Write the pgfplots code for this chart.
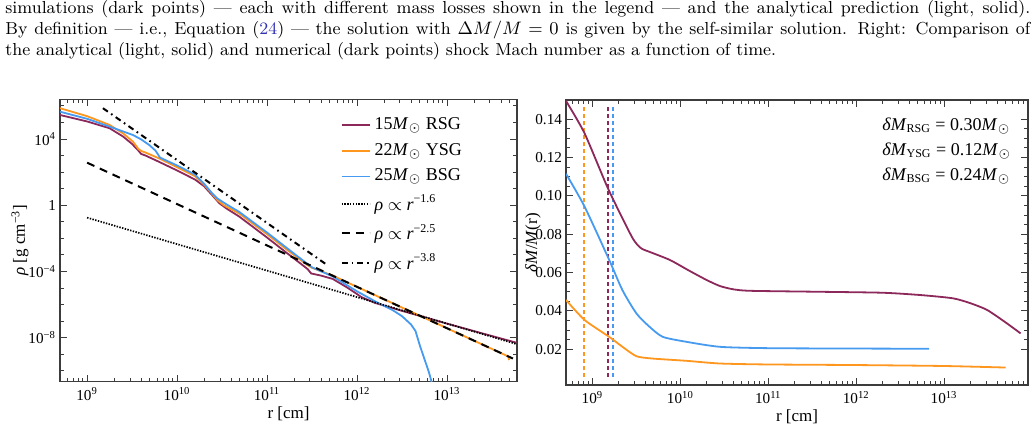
\documentclass[border=0pt]{standalone}
\usepackage{fontspec}
\usepackage{pgfplots}
\pgfplotsset{compat=1.18}
\newfontfamily\tnr{Liberation Serif}

\definecolor{rsg}{RGB}{140,40,90}
\definecolor{ysg}{RGB}{255,150,30}
\definecolor{bsg}{RGB}{70,155,240}
\definecolor{eqlink}{RGB}{50,50,180}
\definecolor{framegray}{RGB}{60,60,60}

\newcommand{\Msun}{\textit{M}\kern0.2pt$_{\odot}$}
\newcommand{\capfont}{\fontsize{8.7}{10.5}\selectfont}
\newcommand{\labfont}{\tnr\fontsize{8.5}{10}\selectfont}

\pgfplotsset{
  mma/.style={
    scale only axis,
    axis line style={framegray, line width=0.6pt},
    tick style={framegray, line width=0.5pt},
    major tick length=3.5pt,
    minor tick length=1.8pt,
    tick align=inside,
    ticklabel style={font=\tnr\fontsize{7.6}{9}\selectfont, text=black},
    xticklabel style={yshift=0.5pt},
    yticklabel style={xshift=1.5pt},
    label style={font=\labfont},
    xlabel={r [cm]},
    x label style={at={(axis description cs:0.5,0)}, anchor=center, yshift=-16pt},
    xtick={1e9,1e10,1e11,1e12,1e13},
    xticklabels={10\textsuperscript{9},10\textsuperscript{10},10\textsuperscript{11},10\textsuperscript{12},10\textsuperscript{13}},
    /pgf/number format/assume math mode=true,
    clip=true,
  }
}

\begin{document}
\begin{tikzpicture}
\path[use as bounding box] (0pt,0pt) rectangle (518pt,221pt);

% caption text above the panels
\node[anchor=base west, inner sep=0pt] at (2.5pt,214.3pt) {\capfont\hbox to 512.5pt{simulations (dark points) --- each with different mass losses shown in the legend --- and the analytical prediction (light, solid).}};
\node[anchor=base west, inner sep=0pt] at (2.5pt,203.8pt) {\capfont\hbox to 512.5pt{By definition --- i.e., Equation (\textcolor{eqlink}{24}) --- the solution with $\Delta M/M = 0$ is given by the self-similar solution. Right: Comparison of}};
\node[anchor=base west, inner sep=0pt] at (2.5pt,193.4pt) {\capfont\hbox{the analytical (light, solid) and numerical (dark points) shock Mach number as a function of time.}};

% vertical axis titles
\node[rotate=90, inner sep=0pt, font=\labfont] at (10pt,101pt) {\textit{ρ} [g cm\textsuperscript{−3}]};
\node[rotate=90, inner sep=0pt, font=\labfont] at (266.5pt,99.5pt) {\textit{δM}/\textit{M}(r)};

% ---------------- left panel: density profiles ----------------
\begin{axis}[mma,
  at={(30pt,30.15pt)}, anchor=south west,
  width=228.5pt, height=141.2pt,
  xmode=log, ymode=log,
  xmin=5e8, xmax=6e13, ymin=2.2e-11, ymax=2.5e6,
  minor xtick={5e8,6e8,7e8,8e8,9e8,2e9,3e9,4e9,5e9,6e9,7e9,8e9,9e9,2e10,3e10,4e10,5e10,6e10,7e10,8e10,9e10,2e11,3e11,4e11,5e11,6e11,7e11,8e11,9e11,2e12,3e12,4e12,5e12,6e12,7e12,8e12,9e12,2e13,3e13,4e13,5e13},
  ytick={1e-8,1e-4,1,1e4},
  yticklabels={10\textsuperscript{−8},10\textsuperscript{−4},1,10\textsuperscript{4}},
  minor ytick={1e-10,1e-9,1e-7,1e-6,1e-5,1e-3,1e-2,1e-1,10,100,1000,1e5,1e6},
  legend style={draw=none, fill=none, at={(rel axis cs:0.6,0.965)}, anchor=north west,
    font=\tnr\fontsize{9}{10}\selectfont, row sep=1.4pt,
    /tikz/every even column/.append style={column sep=4pt}},
  legend cell align=left,
  legend image code/.code={\draw[#1] (0pt,0pt) -- (14pt,0pt);},
]
\addplot[rsg, line width=0.9pt] coordinates {
 (5.0e8,2.818e5) (1e9,1.148e5) (1.778e9,4.467e4) (2.512e9,1.413e4) (3.162e9,5.012e3)
 (3.715e9,1.995e3) (3.981e9,1.259e3) (4.467e9,1.0e3) (6.310e9,4.169e2) (1e10,1.259e2)
 (1.585e10,35.48) (1.995e10,14.13) (2.512e10,3.548) (2.951e10,1.318) (3.548e10,0.631)
 (4.898e10,0.2089) (1e11,1.122e-2) (1.585e11,1.585e-3) (2.818e11,1.413e-4) (3.090e11,7.586e-5)
 (3.981e11,5.623e-5) (5.370e11,3.548e-5) (7.943e11,1e-5) (1.122e12,2.818e-6) (1.585e12,1.259e-6)
 (3.162e12,4.169e-7) (5.370e12,1.862e-7) (1e13,7.079e-8) (2.512e13,1.778e-8) (5.888e13,5.012e-9)};
\addlegendentry{15\Msun{} RSG}
\addplot[ysg, line width=0.9pt] coordinates {
 (5.0e8,7.244e5) (1e9,2.399e5) (1.778e9,7.079e4) (2.512e9,2.188e4) (3.236e9,6.918e3)
 (3.715e9,2.512e3) (3.981e9,1.905e3) (4.467e9,1.514e3) (6.310e9,6.761e2) (1e10,1.995e2)
 (1.585e10,56.23) (1.995e10,17.78) (2.399e10,5.623) (2.818e10,1.995) (3.311e10,1.0)
 (4.898e10,0.3162) (1e11,1.778e-2) (1.585e11,2.512e-3) (2.818e11,2.399e-4) (3.162e11,1.660e-4)
 (5.370e11,5.623e-5) (1e12,1.175e-5) (3.162e12,6.607e-7) (1e13,3.715e-8) (3.162e13,2.089e-9)
 (4.786e13,7.413e-10) (4.898e13,4.467e-10)};
\addlegendentry{22\Msun{} YSG}
\addplot[bsg, line width=0.9pt] coordinates {
 (5.0e8,4.467e5) (1e9,1.660e5) (1.778e9,5.623e4) (3.236e9,1.738e4) (3.981e9,9.550e3)
 (4.898e9,4.365e3) (5.754e9,1.995e3) (6.166e9,1.122e3) (6.457e9,7.586e2) (1e10,2.512e2)
 (1.585e10,70.79) (1.995e10,19.95) (2.399e10,6.026) (2.818e10,2.512) (3.548e10,1.122)
 (4.898e10,0.3981) (1e11,2.239e-2) (1.585e11,3.162e-3) (2.818e11,2.818e-4) (3.162e11,1.778e-4)
 (5.370e11,5.012e-5) (1e12,6.310e-6) (1.585e12,1.585e-6) (2.512e12,4.467e-7) (3.162e12,1.995e-7)
 (3.981e12,6.310e-8) (4.467e12,2.512e-8) (5.012e12,3.162e-9) (5.623e12,5.012e-10)
 (6.310e12,7.943e-11) (6.761e12,1.995e-11)};
\addlegendentry{25\Msun{} BSG}
\addplot[black, line width=0.85pt, dash pattern=on 0.7pt off 0.7pt] coordinates {(1e9,0.1778) (5.9e13,4.15e-9)};
\addlegendentry{\textit{ρ} $\propto$ \textit{r}\textsuperscript{−1.6}}
\addplot[black, line width=1pt, dash pattern=on 4pt off 3pt] coordinates {(1e9,371.5) (5.4e13,5.5e-10)};
\addlegendentry{\textit{ρ} $\propto$ \textit{r}\textsuperscript{−2.5}}
\addplot[black, line width=1pt, dash pattern=on 3pt off 2pt on 0.8pt off 2pt] coordinates {(1.5e9,7.244e5) (4.57e11,2.63e-4)};
\addlegendentry{\textit{ρ} $\propto$ \textit{r}\textsuperscript{−3.8}}
\end{axis}

% ---------------- right panel: relative mass loss ----------------
\begin{axis}[mma,
  at={(283pt,28.5pt)}, anchor=south west,
  width=231pt, height=142.5pt,
  xmode=log,
  xmin=5e8, xmax=9e13, ymin=0.0014, ymax=0.150,
  minor xtick={5e8,6e8,7e8,8e8,9e8,2e9,3e9,4e9,5e9,6e9,7e9,8e9,9e9,2e10,3e10,4e10,5e10,6e10,7e10,8e10,9e10,2e11,3e11,4e11,5e11,6e11,7e11,8e11,9e11,2e12,3e12,4e12,5e12,6e12,7e12,8e12,9e12,2e13,3e13,4e13,5e13,6e13,7e13,8e13},
  ytick={0.02,0.04,0.06,0.08,0.10,0.12,0.14},
  minor y tick num=3,
  yticklabel style={/pgf/number format/.cd, fixed, fixed zerofill, precision=2},
]
\addplot[ysg, line width=1pt, dash pattern=on 2pt off 1.5pt] coordinates {(8.1e8,0.0055) (8.1e8,0.1465)};
\addplot[rsg, line width=1pt, dash pattern=on 2pt off 1.5pt] coordinates {(1.52e9,0.0055) (1.52e9,0.1465)};
\addplot[bsg, line width=1pt, dash pattern=on 2pt off 1.5pt] coordinates {(1.69e9,0.0055) (1.69e9,0.1465)};

\addplot[rsg, line width=0.9pt, smooth, tension=0.4] coordinates {
 (5e8,0.1495) (8.11e8,0.1327) (1.514e9,0.1035) (2.818e9,0.0785) (3.548e9,0.0728)
 (4.467e9,0.0708) (7.586e9,0.0666) (1.259e10,0.0610) (1.995e10,0.0561) (2.818e10,0.0530)
 (3.981e10,0.0513) (6.31e10,0.0505) (3.89e11,0.0500) (2.0e12,0.0495) (5.37e12,0.0483)
 (1.259e13,0.0466) (2.0e13,0.0440) (3.09e13,0.0405) (5.01e13,0.0340) (7.41e13,0.0283)};
\addplot[bsg, line width=0.9pt, smooth, tension=0.4] coordinates {
 (5e8,0.1115) (8.13e8,0.0944) (1.549e9,0.0666) (2.188e9,0.0509) (3.162e9,0.0387)
 (4.467e9,0.0317) (6.31e9,0.0265) (1.175e10,0.0239) (2.818e10,0.0213) (1e11,0.0206)
 (1e12,0.0204) (6.76e12,0.0203)};
\addplot[ysg, line width=0.9pt, smooth, tension=0.4] coordinates {
 (5e8,0.0457) (8.13e8,0.0353) (1.549e9,0.0265) (2.239e9,0.0210) (3.162e9,0.0164)
 (4.786e9,0.0152) (1.175e10,0.0140) (2.818e10,0.0126) (1e11,0.0121) (1e12,0.0118)
 (1e13,0.0113) (5.01e13,0.0105)};

\node[anchor=north west, align=left, inner sep=0pt, font=\tnr\fontsize{9}{12.5}\selectfont]
  at (rel axis cs:0.684,0.937)
  {\textit{δM}\textsubscript{RSG} = 0.30\Msun\\
   \textit{δM}\textsubscript{YSG} = 0.12\Msun\\
   \textit{δM}\textsubscript{BSG} = 0.24\Msun};
\end{axis}
\end{tikzpicture}
\end{document}
